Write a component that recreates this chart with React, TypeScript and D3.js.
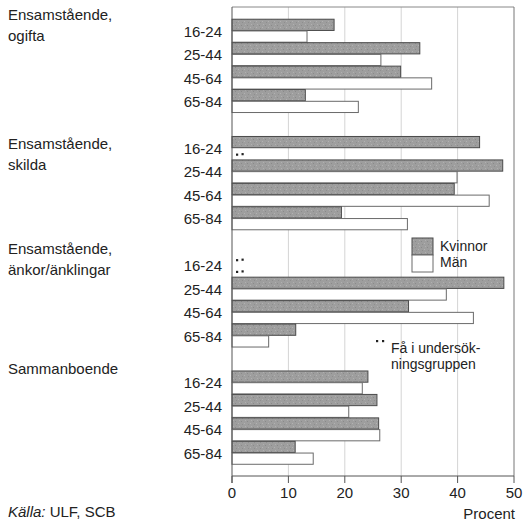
import React from "react";
import * as d3 from "d3";

const groups = ["Ensamstående,\nogifta", "Ensamstående,\nskilda", "Ensamstående,\nänkor/änklingar", "Sammanboende"];
const ages = ["16-24", "25-44", "45-64", "65-84"];
const kvinnor: (number | null)[][] = [
  [18.1, 33.3, 29.9, 13.0],
  [43.9, 48.0, 39.4, 19.4],
  [null, 48.2, 31.3, 11.3],
  [24.1, 25.7, 26.0, 11.2],
];
const man: (number | null)[][] = [
  [13.3, 26.4, 35.4, 22.4],
  [null, 39.9, 45.6, 31.1],
  [null, 38.0, 42.8, 6.5],
  [23.1, 20.7, 26.2, 14.4],
];
const xTicks = [0, 10, 20, 30, 40, 50];
const seriesNames = ["Kvinnor", "Män"];

const W = 525, H = 525;
const FONT = "'Liberation Sans', Arial, Helvetica, sans-serif";
const FS = 15;
const FS2 = 14;
const titleDy = [-4, 8, -4, -2];

export default function App() {
  const x = d3.scaleLinear().domain([0, 50]).range([232, 514]);
  const y = d3.scaleLinear().domain([0, 40]).range([7, 476]);
  const slot = y(1) - y(0);
  const kFill = "#9e9e9e";
  const kStroke = "#4a4a4a";
  const mStroke = "#6a6a6a";

  const bars: React.ReactNode[] = [];
  const dots: React.ReactNode[] = [];
  groups.forEach((_, g) => {
    ages.forEach((_, a) => {
      [kvinnor[g][a], man[g][a]].forEach((v, s) => {
        const idx = 1 + g * 10 + a * 2 + s;
        const top = y(idx);
        if (v === null) {
          const cy = top + slot / 2 + 1;
          dots.push(
            <g key={`d${g}-${a}-${s}`}>
              <rect x={x(0) + 4} y={cy - 1} width={2.2} height={2.2} fill="#222" />
              <rect x={x(0) + 9.5} y={cy - 1.5} width={2.2} height={2.2} fill="#222" />
            </g>
          );
        } else {
          bars.push(
            <rect
              key={`b${g}-${a}-${s}`}
              x={x(0)}
              y={top + 0.5}
              width={x(v) - x(0)}
              height={slot - 0.5}
              fill={s === 0 ? "url(#kpat)" : "#fff"}
              stroke={s === 0 ? kStroke : mStroke}
              strokeWidth={1}
            />
          );
        }
      });
    });
  });

  return (
    <svg width={W} height={H} style={{ position: "absolute", left: 0, top: 0, background: "#fff" }} fontFamily={FONT}>
      <defs>
        <pattern id="kpat" width="6" height="6" patternUnits="userSpaceOnUse">
          <rect width="6" height="6" fill={kFill} />
          <rect x="1" y="1" width="1" height="1" fill="#8a8a8a" />
          <rect x="4" y="3" width="1" height="1" fill="#b2b2b2" />
          <rect x="2" y="4" width="1" height="1" fill="#8e8e8e" />
          <rect x="5" y="0" width="1" height="1" fill="#b0b0b0" />
        </pattern>
      </defs>
      {xTicks.slice(1, -1).map((t) => (
        <line key={`g${t}`} x1={x(t)} x2={x(t)} y1={y(0)} y2={y(40)} stroke="#d4d4d4" strokeWidth={1} />
      ))}
      <line x1={x(0)} x2={x(50)} y1={y(0)} y2={y(0)} stroke="#888" strokeWidth={1} />
      <line x1={x(50)} x2={x(50)} y1={y(0)} y2={y(40)} stroke="#777" strokeWidth={1} />
      {bars}
      {dots}
      <line x1={x(0)} x2={x(0)} y1={y(0)} y2={y(40) + 7} stroke="#555" strokeWidth={1} />
      <line x1={x(0)} x2={x(50)} y1={y(40)} y2={y(40)} stroke="#555" strokeWidth={1} />
      {xTicks.map((t) => (
        <g key={`t${t}`}>
          <line x1={x(t)} x2={x(t)} y1={y(40)} y2={y(40) + 7} stroke="#555" strokeWidth={1} />
          <text x={x(t)} y={y(40) + 17} dy="0.35em" textAnchor="middle" fontSize={FS} fill="#222">
            {t}
          </text>
        </g>
      ))}
      <text x={x(50) + 1} y={514} dy="0.35em" textAnchor="end" fontSize={FS} fill="#222">
        Procent
      </text>
      {groups.map((_, g) =>
        ages.map((ag, a) => (
          <text
            key={`a${g}-${a}`}
            x={222}
            y={y(1 + g * 10 + a * 2 + 1) + 1}
            dy="0.35em"
            textAnchor="end"
            fontSize={FS}
            fill="#222"
          >
            {ag}
          </text>
        ))
      )}
      {groups.map((name, g) =>
        name.split("\n").map((line, i) => (
          <text key={`gt${g}-${i}`} x={8} y={y(1 + g * 10) + titleDy[g] + i * 21} dy="0.35em" fontSize={FS} fill="#222">
            {line}
          </text>
        ))
      )}
      <rect x={412} y={238} width={21} height={17} fill="url(#kpat)" stroke={kStroke} strokeWidth={1} />
      <rect x={412} y={255} width={21} height={17} fill="#fff" stroke={mStroke} strokeWidth={1} />
      <text x={440} y={246} dy="0.35em" fontSize={FS2} fill="#222">{seriesNames[0]}</text>
      <text x={440} y={262} dy="0.35em" fontSize={FS2} fill="#222">{seriesNames[1]}</text>
      <rect x={376} y={340} width={2.2} height={2.2} fill="#222" />
      <rect x={382} y={340} width={2.2} height={2.2} fill="#222" />
      <text x={391} y={348} dy="0.35em" fontSize={FS2} fill="#222">Få i undersök-</text>
      <text x={391} y={364} dy="0.35em" fontSize={FS2} fill="#222">ningsgruppen</text>
      <text x={8} y={512} dy="0.35em" fontSize={FS} fill="#222">
        <tspan fontStyle="italic">Källa:</tspan> ULF, SCB
      </text>
    </svg>
  );
}
